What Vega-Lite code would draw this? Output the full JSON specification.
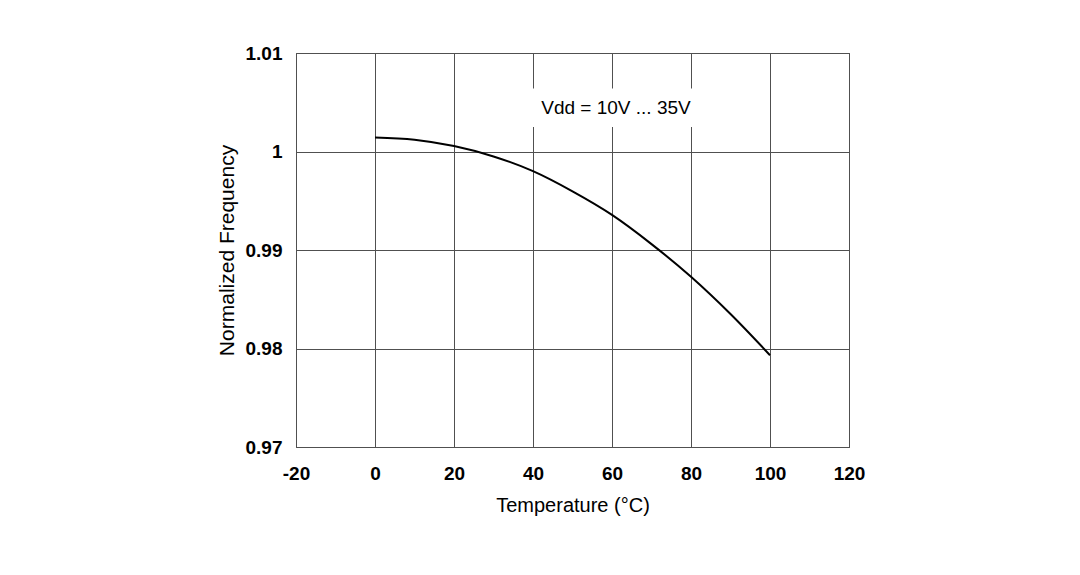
{
  "$schema": "https://vega.github.io/schema/vega-lite/v6.json",
  "width": 553,
  "height": 394,
  "autosize": {"type": "none"},
  "padding": {"left": 296, "top": 53, "right": 231, "bottom": 128},
  "background": "white",
  "config": {
    "font": "Liberation Sans",
    "view": {"stroke": "#333333", "strokeWidth": 1},
    "axis": {
      "grid": true,
      "gridColor": "#505050",
      "gridOpacity": 1,
      "gridWidth": 1,
      "domain": false,
      "ticks": false,
      "labelFont": "Liberation Sans",
      "labelFontWeight": "bold",
      "labelFontSize": 19,
      "labelColor": "#000000",
      "titleFont": "Liberation Sans",
      "titleFontWeight": "normal",
      "titleFontSize": 20,
      "titleColor": "#000000"
    }
  },
  "datasets": {
    "curve": [
      {"temp": 0, "freq": 1.00142},
      {"temp": 10, "freq": 1.0012},
      {"temp": 20, "freq": 1.00055},
      {"temp": 30, "freq": 0.9995},
      {"temp": 40, "freq": 0.998},
      {"temp": 50, "freq": 0.99595},
      {"temp": 60, "freq": 0.99356},
      {"temp": 70, "freq": 0.9906},
      {"temp": 80, "freq": 0.98728},
      {"temp": 90, "freq": 0.9835},
      {"temp": 100, "freq": 0.97932}
    ],
    "note": [
      {"x1": 28, "x2": 94, "y1": 1.0025, "y2": 1.0064, "xt": 61, "yt": 1.00445, "label": "Vdd = 10V ... 35V"}
    ]
  },
  "layer": [
    {
      "data": {"name": "curve"},
      "mark": {"type": "line", "color": "#000000", "strokeWidth": 2, "interpolate": "monotone"},
      "encoding": {
        "x": {
          "field": "temp",
          "type": "quantitative",
          "scale": {"domain": [-20, 120], "nice": false, "zero": false},
          "axis": {
            "title": "Temperature (°C)",
            "values": [-20, 0, 20, 40, 60, 80, 100, 120],
            "labelExpr": "toString(datum.value)",
            "labelPadding": 17,
            "titlePadding": 12,
            "labelFlush": false,
            "labelOverlap": false
          }
        },
        "y": {
          "field": "freq",
          "type": "quantitative",
          "scale": {"domain": [0.97, 1.01], "nice": false, "zero": false},
          "axis": {
            "title": "Normalized Frequency",
            "values": [0.97, 0.98, 0.99, 1, 1.01],
            "labelExpr": "toString(datum.value)",
            "labelPadding": 14,
            "titlePadding": 8,
            "titleFontSize": 21,
            "labelFlush": false,
            "labelOverlap": false
          }
        }
      }
    },
    {
      "data": {"name": "note"},
      "mark": {"type": "rect", "fill": "white", "stroke": null},
      "encoding": {
        "x": {"field": "x1", "type": "quantitative"},
        "x2": {"field": "x2"},
        "y": {"field": "y1", "type": "quantitative"},
        "y2": {"field": "y2"}
      }
    },
    {
      "data": {"name": "note"},
      "mark": {"type": "text", "font": "Liberation Sans", "fontSize": 19, "color": "#000000", "align": "center", "baseline": "middle"},
      "encoding": {
        "x": {"field": "xt", "type": "quantitative"},
        "y": {"field": "yt", "type": "quantitative"},
        "text": {"field": "label"}
      }
    }
  ]
}
